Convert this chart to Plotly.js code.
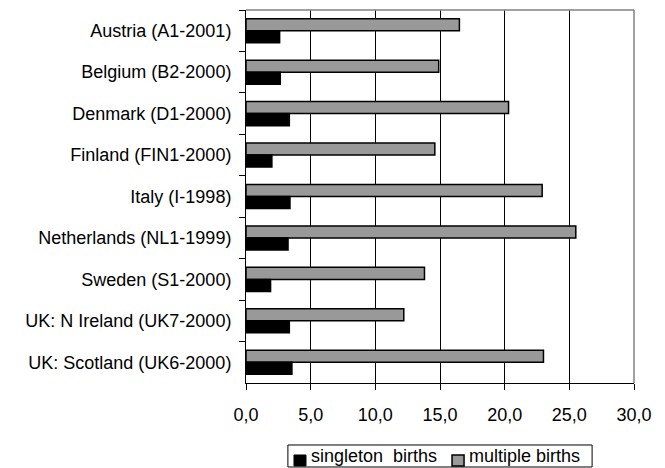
<!DOCTYPE html>
<html>
<head>
<meta charset="utf-8">
<script src="https://cdn.plot.ly/plotly-3.0.1.min.js"></script>
<style>html,body{margin:0;padding:0;background:#fff;}#chart{width:665px;height:468px;}</style>
</head>
<body>
<div id="chart"></div>
<script>
const categories = [
  "Austria (A1-2001)",
  "Belgium (B2-2000)",
  "Denmark (D1-2000)",
  "Finland (FIN1-2000)",
  "Italy (I-1998)",
  "Netherlands (NL1-1999)",
  "Sweden (S1-2000)",
  "UK: N Ireland (UK7-2000)",
  "UK: Scotland (UK6-2000)"
];
const singletonBirths = [2.6, 2.65, 3.35, 2.0, 3.4, 3.25, 1.9, 3.35, 3.55];
const multipleBirths = [16.5, 14.9, 20.3, 14.6, 22.9, 25.5, 13.8, 12.2, 23.0];
const xTickValues = [0, 5, 10, 15, 20, 25, 30];
const seriesNames = ["singleton  births", "multiple births"];
const seriesColors = ["#000000", "#999999"];

const font = {family: "Arial, 'Liberation Sans', sans-serif", size: 18, color: "#000"};

const traces = [
  {
    type: "bar", orientation: "h", name: seriesNames[1],
    y: categories, x: multipleBirths,
    marker: {color: seriesColors[1], line: {color: "#000", width: 1.5}},
    showlegend: false, hoverinfo: "x+y"
  },
  {
    type: "bar", orientation: "h", name: seriesNames[0],
    y: categories, x: singletonBirths,
    marker: {color: seriesColors[0], line: {color: "#000", width: 1.5}},
    showlegend: false, hoverinfo: "x+y"
  }
];

// Legend (drawn in paper coordinates, Excel style box below the chart)
const legendShapes = [
  {type: "rect", xref: "paper", yref: "paper", x0: 0.108, x1: 0.892, y0: -0.2252, y1: -0.1662,
   line: {color: "#000", width: 1}, fillcolor: "#fff", layer: "above"},
  {type: "rect", xref: "paper", yref: "paper", x0: 0.1237, x1: 0.1546, y0: -0.2225, y1: -0.193,
   line: {color: "#000", width: 1}, fillcolor: seriesColors[0], layer: "above"},
  {type: "rect", xref: "paper", yref: "paper", x0: 0.531, x1: 0.562, y0: -0.2225, y1: -0.193,
   line: {color: "#000", width: 1.5}, fillcolor: seriesColors[1], layer: "above"}
];
const legendAnnotations = [
  {xref: "paper", yref: "paper", x: 0.163, y: -0.197, xanchor: "left", yanchor: "middle",
   text: seriesNames[0], showarrow: false, font: font},
  {xref: "paper", yref: "paper", x: 0.57, y: -0.197, xanchor: "left", yanchor: "middle",
   text: seriesNames[1], showarrow: false, font: font}
];

const layout = {
  width: 665, height: 468,
  margin: {l: 246, r: 31, t: 10, b: 85},
  paper_bgcolor: "#fff", plot_bgcolor: "#fff",
  font: font,
  separators: ",.",
  barmode: "group",
  bargap: 0.42,
  bargroupgap: 0,
  showlegend: false,
  xaxis: {
    range: [0, 30], tickvals: xTickValues, tickformat: ".1f",
    showgrid: true, gridcolor: "#000", gridwidth: 1,
    showline: true, linecolor: "#000", linewidth: 1,
    ticks: "outside", ticklen: 6, tickcolor: "#000",
    ticklabelstandoff: 9,
    zeroline: false, mirror: false, fixedrange: true
  },
  yaxis: {
    type: "category", autorange: "reversed",
    showline: true, linecolor: "#000", linewidth: 1,
    ticks: "outside", ticklen: 6, tickcolor: "#000", tickson: "boundaries",
    ticklabelstandoff: 10,
    showgrid: false, zeroline: false, fixedrange: true
  },
  shapes: [
    {type: "line", xref: "paper", yref: "paper", x0: 0, x1: 1, y0: 1, y1: 1, line: {color: "#808080", width: 1.5}},
    {type: "line", xref: "paper", yref: "paper", x0: 1, x1: 1, y0: 0, y1: 1, line: {color: "#808080", width: 1.5}}
  ].concat(legendShapes),
  annotations: legendAnnotations
};

Plotly.newPlot("chart", traces, layout, {displayModeBar: false, staticPlot: true});
</script>
</body>
</html>
